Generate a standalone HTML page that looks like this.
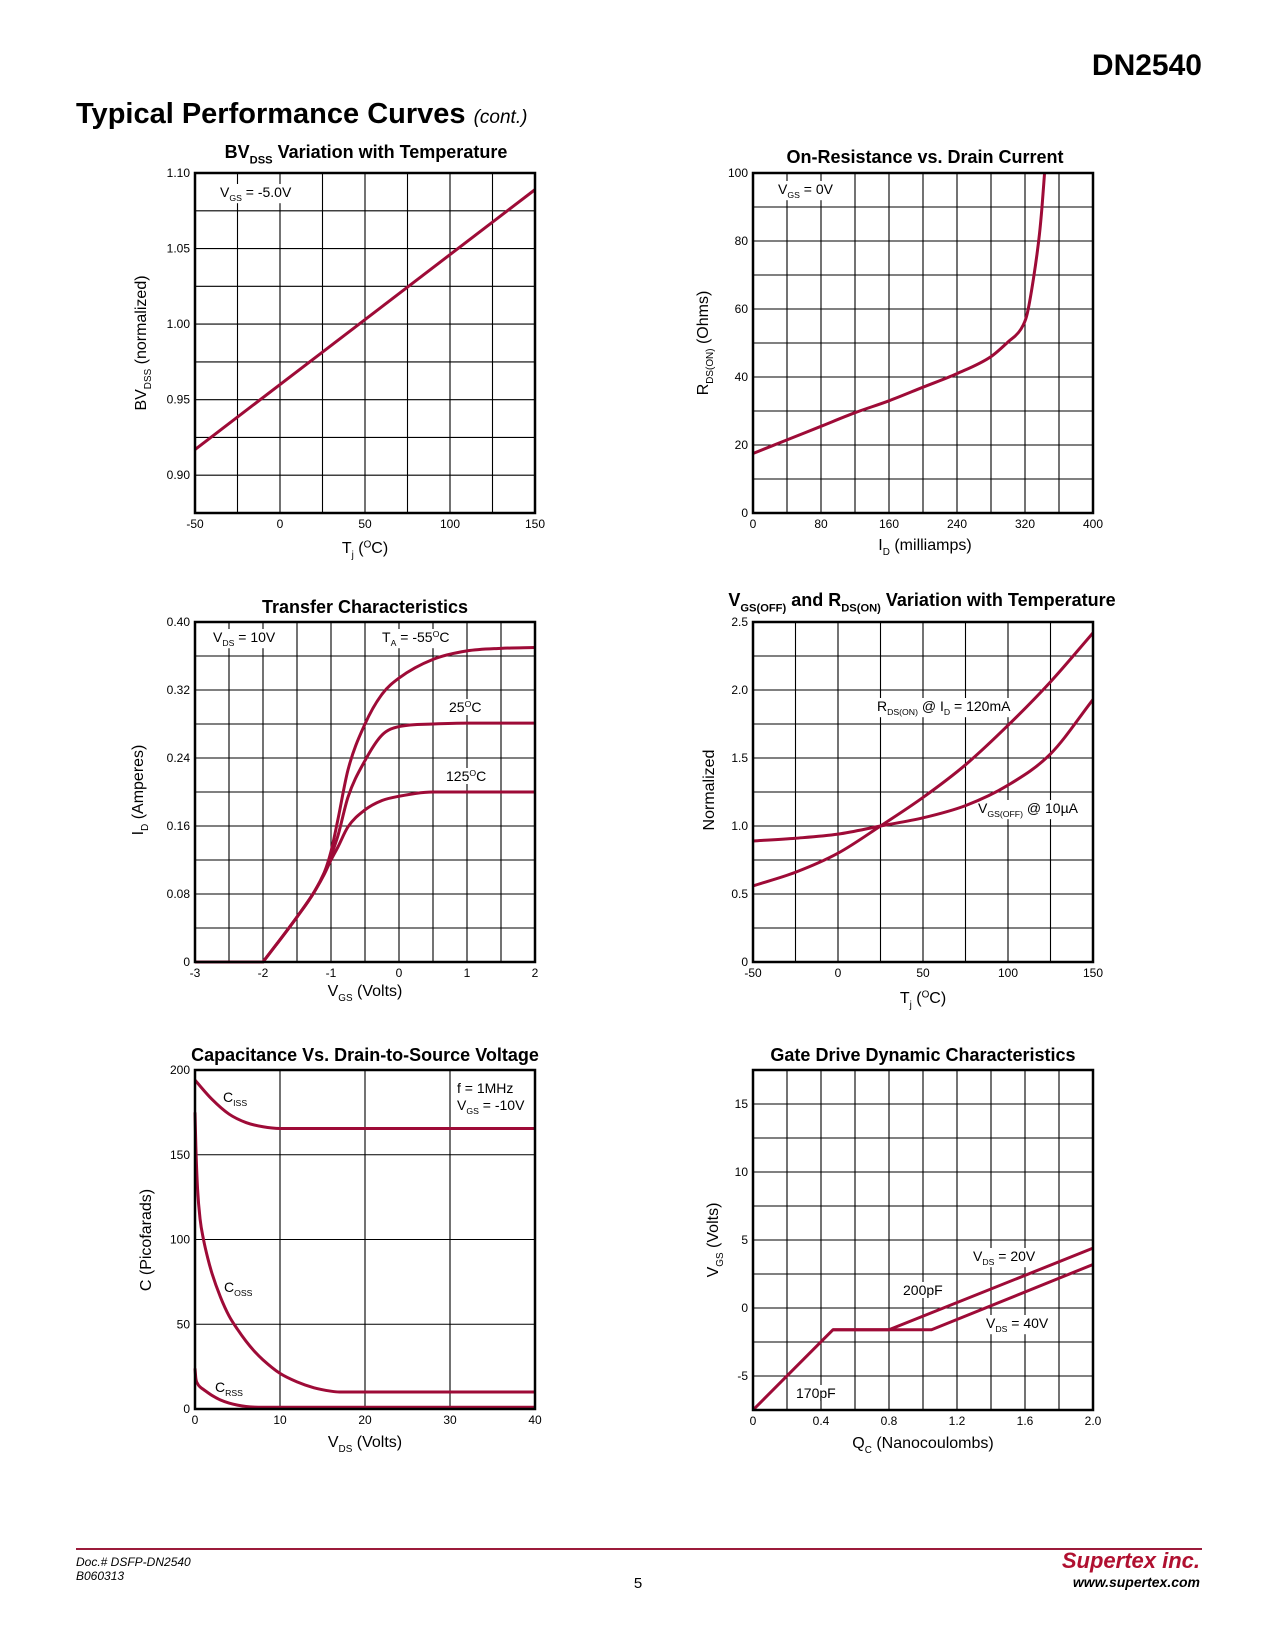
<!DOCTYPE html>
<html><head><meta charset="utf-8">
<style>
html,body{margin:0;padding:0;background:#fff;}
svg{display:block;font-family:"Liberation Sans",Arial,sans-serif;}
</style></head>
<body>
<svg id="page" width="1275" height="1650" viewBox="0 0 1275 1650" xmlns="http://www.w3.org/2000/svg">
<text x="1202" y="75" text-anchor="end" font-size="30" font-weight="bold">DN2540</text>
<text x="76" y="123" font-size="29" font-weight="bold">Typical Performance Curves <tspan font-size="19" font-weight="normal" font-style="italic">(cont.)</tspan></text>
<line x1="76" y1="1549" x2="1202" y2="1549" stroke="#9b1b3a" stroke-width="2"/>
<text x="76" y="1566" font-size="12" font-style="italic">Doc.# DSFP-DN2540</text>
<text x="76" y="1580" font-size="12" font-style="italic">B060313</text>
<text x="638" y="1588" font-size="15" text-anchor="middle">5</text>
<text x="1200" y="1568" font-size="22" font-weight="bold" font-style="italic" fill="#b01030" text-anchor="end">Supertex inc.</text>
<text x="1200" y="1587" font-size="14" font-weight="bold" font-style="italic" text-anchor="end">www.supertex.com</text>
</svg>
<script>
// ---------- Chart 1: BVDSS vs temperature ----------
const c1Temp = [-50, 150];
const c1BV = [0.917, 1.089];
const c1XTicks = [-50, 0, 50, 100, 150];
const c1XTickLabels = ['-50', '0', '50', '100', '150'];
const c1YTicks = [0.90, 0.95, 1.00, 1.05, 1.10];
const c1YTickLabels = ['0.90', '0.95', '1.00', '1.05', '1.10'];
// ---------- Chart 2: RDS(on) vs drain current ----------
const c2Id = [0, 40, 80, 120, 160, 200, 240, 280, 300, 315, 322, 330, 337, 340, 343];
const c2Rds = [17.5, 21.5, 25.5, 29.5, 33, 37, 41, 46, 50.3, 54, 58, 69, 82, 90, 100];
const c2XTicks = [0, 80, 160, 240, 320, 400];
const c2XTickLabels = ['0', '80', '160', '240', '320', '400'];
const c2YTicks = [0, 20, 40, 60, 80, 100];
const c2YTickLabels = ['0', '20', '40', '60', '80', '100'];
// ---------- Chart 3: transfer characteristics ----------
const c3Vgs = [-3, -2, -1.5, -1.25, -1.1, -1, -0.9, -0.75, -0.5, -0.25, 0, 0.5, 1, 1.5, 2];
const c3IdM55 = [0, 0, 0.053, 0.082, 0.105, 0.13, 0.167, 0.226, 0.28, 0.315, 0.334, 0.356, 0.366, 0.369, 0.37];
const c3Id25 = [0, 0, 0.053, 0.082, 0.105, 0.125, 0.148, 0.194, 0.237, 0.267, 0.277, 0.28, 0.281, 0.281, 0.281];
const c3Id125 = [0, 0, 0.053, 0.082, 0.103, 0.12, 0.135, 0.159, 0.179, 0.19, 0.195, 0.2, 0.2, 0.2, 0.2];
const c3XTicks = [-3, -2, -1, 0, 1, 2];
const c3XTickLabels = ['-3', '-2', '-1', '0', '1', '2'];
const c3YTicks = [0, 0.08, 0.16, 0.24, 0.32, 0.40];
const c3YTickLabels = ['0', '0.08', '0.16', '0.24', '0.32', '0.40'];
// ---------- Chart 4: VGS(off) & RDS(on) vs temperature ----------
const c4Temp = [-50, -25, 0, 25, 50, 75, 100, 125, 150];
const c4Rds = [0.56, 0.66, 0.80, 1.0, 1.21, 1.45, 1.74, 2.06, 2.42];
const c4Vgs = [0.89, 0.91, 0.94, 1.0, 1.06, 1.15, 1.30, 1.53, 1.93];
const c4XTicks = [-50, 0, 50, 100, 150];
const c4XTickLabels = ['-50', '0', '50', '100', '150'];
const c4YTicks = [0, 0.5, 1.0, 1.5, 2.0, 2.5];
const c4YTickLabels = ['0', '0.5', '1.0', '1.5', '2.0', '2.5'];
// ---------- Chart 5: capacitance vs VDS ----------
const c5VdsIss = [0, 2, 4, 6, 8, 10, 40];
const c5Ciss = [194, 182.7, 174, 169, 166.5, 165.5, 165.5];
const c5VdsOss = [0, 0.1, 0.3, 0.6, 1, 1.5, 2, 3, 4, 5, 6, 7, 8, 10, 12, 14, 16, 17, 40];
const c5Coss = [175, 155, 130, 112, 100, 89, 80, 66, 55, 47, 40, 34, 29, 21, 16, 12.5, 10.5, 10, 10];
const c5VdsRss = [0, 0.1, 0.3, 0.6, 1, 2, 3, 4, 5, 6, 7, 8, 40];
const c5Crss = [24, 18, 15, 13, 11.5, 8, 5.3, 3.5, 2.3, 1.5, 1.1, 1, 1];
const c5XTicks = [0, 10, 20, 30, 40];
const c5XTickLabels = ['0', '10', '20', '30', '40'];
const c5YTicks = [0, 50, 100, 150, 200];
const c5YTickLabels = ['0', '50', '100', '150', '200'];
// ---------- Chart 6: gate charge ----------
const c6Q20 = [0, 0.47, 0.8, 2.0];
const c6V20 = [-7.5, -1.6, -1.6, 4.4];
const c6Q40 = [0.47, 1.05, 2.0];
const c6V40 = [-1.6, -1.6, 3.2];
const c6XTicks = [0, 0.4, 0.8, 1.2, 1.6, 2.0];
const c6XTickLabels = ['0', '0.4', '0.8', '1.2', '1.6', '2.0'];
const c6YTicks = [-5, 0, 5, 10, 15];
const c6YTickLabels = ['-5', '0', '5', '10', '15'];

const NS = 'http://www.w3.org/2000/svg';
const page = document.getElementById('page');
const RED = '#9e0b37';

function mk(tag, attrs, name, parent) {
  const el = document.createElementNS(NS, tag);
  for (const k in attrs) el.setAttribute(k, attrs[k]);
  
  
  parent.appendChild(el);
  return el;
}
function rich(parent, x, y, parts, size, name, opts) {
  opts = opts || {};
  const t = mk('text', {x: x, y: y, 'font-size': size}, name, parent);
  if (opts.anchor) t.setAttribute('text-anchor', opts.anchor);
  if (opts.bold) t.setAttribute('font-weight', 'bold');
  if (opts.transform) t.setAttribute('transform', opts.transform);
  let sub = false;
  parts.forEach(p => {
    const s = document.createElementNS(NS, 'tspan');
    s.textContent = p[0];
    if (p[1] === 1 && !sub) { s.setAttribute('dy', size * 0.3); s.setAttribute('font-size', size * 0.62); sub = true; }
    else if (p[1] === 1) { s.setAttribute('font-size', size * 0.62); }
    else if (p[1] === 2) { s.setAttribute('dy', -size * 0.35); s.setAttribute('font-size', size * 0.62); sub = 'sup'; }
    else if (sub === true) { s.setAttribute('dy', -size * 0.3); sub = false; }
    else if (sub === 'sup') { s.setAttribute('dy', size * 0.35); sub = false; }
    t.appendChild(s);
  });
  if (opts.bg) {
    const b = t.getBBox();
    const r = document.createElementNS(NS, 'rect');
    r.setAttribute('x', b.x - 2); r.setAttribute('y', b.y);
    r.setAttribute('width', b.width + 4); r.setAttribute('height', b.height);
    r.setAttribute('fill', '#fff');
    
    
    parent.insertBefore(r, t);
  }
  return t;
}

function chart(c) {
  const g = mk('g', {}, c.name, page);
  const sx = v => c.L + (v - c.xmin) / (c.xmax - c.xmin) * (c.R - c.L);
  const sy = v => c.B - (v - c.ymin) / (c.ymax - c.ymin) * (c.B - c.T);
  const grid = mk('g', {stroke: '#000', 'stroke-width': 1.1}, 'grid', g);
  for (let i = 1; i < c.nx; i++) {
    const x = c.L + i * (c.R - c.L) / c.nx;
    mk('line', {x1: x, y1: c.T, x2: x, y2: c.B}, 'grid-line-x', grid);
  }
  for (let i = 1; i < c.ny; i++) {
    const y = c.T + i * (c.B - c.T) / c.ny;
    mk('line', {x1: c.L, y1: y, x2: c.R, y2: y}, 'grid-line-y', grid);
  }
  c.xt.forEach((v, i) => {
    const t = mk('text', {x: sx(v), y: c.B + 15, 'font-size': 12, 'text-anchor': 'middle'}, 'x-tick-label', g);
    t.textContent = c.xl[i];
  });
  c.yt.forEach((v, i) => {
    const t = mk('text', {x: c.L - 5, y: sy(v) + 4, 'font-size': 12, 'text-anchor': 'end'}, 'y-tick-label', g);
    t.textContent = c.yl[i];
  });
  return {g, sx, sy};
}
function frame(c, g) {
  mk('rect', {x: c.L, y: c.T, width: c.R - c.L, height: c.B - c.T, fill: 'none', stroke: '#000', 'stroke-width': 2.5}, 'plot-frame', g);
}
function monoPath(xs, ys, sx, sy, noMove) {
  const px = xs.map(sx), py = ys.map(sy), n = px.length;
  if (n === 2) return (noMove ? 'L' : 'M') + px[0] + ',' + py[0] + 'L' + px[1] + ',' + py[1];
  const m = [], t = [];
  for (let k = 0; k < n - 1; k++) m.push((py[k + 1] - py[k]) / (px[k + 1] - px[k]));
  t[0] = m[0]; t[n - 1] = m[n - 2];
  for (let k = 1; k < n - 1; k++) t[k] = (m[k - 1] * m[k] <= 0) ? 0 : (m[k - 1] + m[k]) / 2;
  for (let k = 0; k < n - 1; k++) {
    if (m[k] === 0) { t[k] = 0; t[k + 1] = 0; continue; }
    const a = t[k] / m[k], b = t[k + 1] / m[k], s = a * a + b * b;
    if (s > 9) { const f = 3 / Math.sqrt(s); t[k] = f * a * m[k]; t[k + 1] = f * b * m[k]; }
  }
  let d = (noMove ? 'L' : 'M') + px[0] + ',' + py[0];
  for (let k = 0; k < n - 1; k++) {
    const h = px[k + 1] - px[k];
    d += 'C' + (px[k] + h / 3) + ',' + (py[k] + t[k] * h / 3) + ' ' + (px[k + 1] - h / 3) + ',' + (py[k + 1] - t[k + 1] * h / 3) + ' ' + px[k + 1] + ',' + py[k + 1];
  }
  return d;
}
function linPath(xs, ys, sx, sy) {
  return xs.map((x, i) => (i ? 'L' : 'M') + sx(x) + ',' + sy(ys[i])).join('');
}
// flat linear lead-in then smooth rise
function kneePath(xs, ys, sx, sy) {
  return 'M' + sx(xs[0]) + ',' + sy(ys[0]) + monoPath(xs.slice(1), ys.slice(1), sx, sy, true);
}
function curve(g, d, name) {
  mk('path', {d: d, fill: 'none', stroke: RED, 'stroke-width': 3, 'stroke-linejoin': 'round'}, name, g);
}

// Chart 1
let C = {name: 'chart-bvdss-vs-temp', L: 195, R: 535, T: 173, B: 513, xmin: -50, xmax: 150, ymin: 0.875, ymax: 1.10, nx: 8, ny: 9, xt: c1XTicks, xl: c1XTickLabels, yt: c1YTicks, yl: c1YTickLabels};
let r = chart(C);
rich(r.g, 220, 197, [['V'], ['GS', 1], [' = -5.0V']], 14, 'vgs-annotation', {bg: true});
curve(r.g, monoPath(c1Temp, c1BV, r.sx, r.sy), 'bvdss-line');
frame(C, r.g);
rich(r.g, 366, 158, [['BV'], ['DSS', 1], [' Variation with Temperature']], 18, 'chart-title', {anchor: 'middle', bold: true});
rich(r.g, 365, 553, [['T'], ['j', 1], [' ('], ['O', 2], ['C)']], 16, 'x-axis-title', {anchor: 'middle'});
rich(r.g, 0, 0, [['BV'], ['DSS', 1], [' (normalized)']], 16, 'y-axis-title', {anchor: 'middle', transform: 'translate(146,343) rotate(-90)'});

// Chart 2
C = {name: 'chart-rds-vs-id', L: 753, R: 1093, T: 173, B: 513, xmin: 0, xmax: 400, ymin: 0, ymax: 100, nx: 10, ny: 10, xt: c2XTicks, xl: c2XTickLabels, yt: c2YTicks, yl: c2YTickLabels};
r = chart(C);
rich(r.g, 778, 194, [['V'], ['GS', 1], [' = 0V']], 14, 'vgs-annotation', {bg: true});
curve(r.g, monoPath(c2Id, c2Rds, r.sx, r.sy), 'rds-curve');
frame(C, r.g);
rich(r.g, 925, 163, [['On-Resistance vs. Drain Current']], 18, 'chart-title', {anchor: 'middle', bold: true});
rich(r.g, 925, 550, [['I'], ['D', 1], [' (milliamps)']], 16, 'x-axis-title', {anchor: 'middle'});
rich(r.g, 0, 0, [['R'], ['DS(ON)', 1], [' (Ohms)']], 16, 'y-axis-title', {anchor: 'middle', transform: 'translate(708,343) rotate(-90)'});

// Chart 3
C = {name: 'chart-transfer', L: 195, R: 535, T: 622, B: 962, xmin: -3, xmax: 2, ymin: 0, ymax: 0.40, nx: 10, ny: 10, xt: c3XTicks, xl: c3XTickLabels, yt: c3YTicks, yl: c3YTickLabels};
r = chart(C);
rich(r.g, 213, 642, [['V'], ['DS', 1], [' = 10V']], 14, 'vds-annotation', {bg: true});
rich(r.g, 382, 642, [['T'], ['A', 1], [' = -55'], ['O', 2], ['C']], 14, 'label-minus55c', {bg: true});
rich(r.g, 449, 712, [['25'], ['O', 2], ['C']], 14, 'label-25c', {bg: true});
rich(r.g, 446, 781, [['125'], ['O', 2], ['C']], 14, 'label-125c', {bg: true});
curve(r.g, kneePath(c3Vgs, c3Id125, r.sx, r.sy), 'curve-125c');
curve(r.g, kneePath(c3Vgs, c3Id25, r.sx, r.sy), 'curve-25c');
curve(r.g, kneePath(c3Vgs, c3IdM55, r.sx, r.sy), 'curve-minus55c');
frame(C, r.g);
rich(r.g, 365, 613, [['Transfer Characteristics']], 18, 'chart-title', {anchor: 'middle', bold: true});
rich(r.g, 365, 996, [['V'], ['GS', 1], [' (Volts)']], 16, 'x-axis-title', {anchor: 'middle'});
rich(r.g, 0, 0, [['I'], ['D', 1], [' (Amperes)']], 16, 'y-axis-title', {anchor: 'middle', transform: 'translate(143,790) rotate(-90)'});

// Chart 4
C = {name: 'chart-vgsoff-rdson-vs-temp', L: 753, R: 1093, T: 622, B: 962, xmin: -50, xmax: 150, ymin: 0, ymax: 2.5, nx: 8, ny: 10, xt: c4XTicks, xl: c4XTickLabels, yt: c4YTicks, yl: c4YTickLabels};
r = chart(C);
rich(r.g, 877, 711, [['R'], ['DS(ON)', 1], [' @ I'], ['D', 1], [' = 120mA']], 14, 'label-rdson', {bg: true});
rich(r.g, 978, 813, [['V'], ['GS(OFF)', 1], [' @ 10µA']], 14, 'label-vgsoff', {bg: true});
curve(r.g, monoPath(c4Temp, c4Rds, r.sx, r.sy), 'rdson-curve');
curve(r.g, monoPath(c4Temp, c4Vgs, r.sx, r.sy), 'vgsoff-curve');
frame(C, r.g);
rich(r.g, 922, 606, [['V'], ['GS(OFF)', 1], [' and R'], ['DS(ON)', 1], [' Variation with Temperature']], 18, 'chart-title', {anchor: 'middle', bold: true});
rich(r.g, 923, 1003, [['T'], ['j', 1], [' ('], ['O', 2], ['C)']], 16, 'x-axis-title', {anchor: 'middle'});
rich(r.g, 0, 0, [['Normalized']], 16, 'y-axis-title', {anchor: 'middle', transform: 'translate(714,790) rotate(-90)'});

// Chart 5
C = {name: 'chart-capacitance', L: 195, R: 535, T: 1070, B: 1409, xmin: 0, xmax: 40, ymin: 0, ymax: 200, nx: 4, ny: 4, xt: c5XTicks, xl: c5XTickLabels, yt: c5YTicks, yl: c5YTickLabels};
r = chart(C);
rich(r.g, 223, 1102, [['C'], ['ISS', 1]], 14, 'label-ciss');
rich(r.g, 224, 1292, [['C'], ['OSS', 1]], 14, 'label-coss');
rich(r.g, 215, 1392, [['C'], ['RSS', 1]], 14, 'label-crss');
rich(r.g, 457, 1093, [['f = 1MHz']], 14, 'freq-annotation');
rich(r.g, 457, 1110, [['V'], ['GS', 1], [' = -10V']], 14, 'vgs-annotation');
curve(r.g, monoPath(c5VdsIss, c5Ciss, r.sx, r.sy), 'ciss-curve');
curve(r.g, monoPath(c5VdsOss, c5Coss, r.sx, r.sy), 'coss-curve');
curve(r.g, monoPath(c5VdsRss, c5Crss, r.sx, r.sy), 'crss-curve');
frame(C, r.g);
rich(r.g, 365, 1061, [['Capacitance Vs. Drain-to-Source Voltage']], 18, 'chart-title', {anchor: 'middle', bold: true});
rich(r.g, 365, 1447, [['V'], ['DS', 1], [' (Volts)']], 16, 'x-axis-title', {anchor: 'middle'});
rich(r.g, 0, 0, [['C (Picofarads)']], 16, 'y-axis-title', {anchor: 'middle', transform: 'translate(151,1240) rotate(-90)'});

// Chart 6
C = {name: 'chart-gate-charge', L: 753, R: 1093, T: 1070, B: 1410, xmin: 0, xmax: 2.0, ymin: -7.5, ymax: 17.5, nx: 10, ny: 10, xt: c6XTicks, xl: c6XTickLabels, yt: c6YTicks, yl: c6YTickLabels};
r = chart(C);
rich(r.g, 973, 1261, [['V'], ['DS', 1], [' = 20V']], 14, 'label-vds20', {bg: true});
rich(r.g, 903, 1295, [['200pF']], 14, 'label-200pf', {bg: true});
rich(r.g, 986, 1328, [['V'], ['DS', 1], [' = 40V']], 14, 'label-vds40', {bg: true});
rich(r.g, 796, 1398, [['170pF']], 14, 'label-170pf', {bg: true});
curve(r.g, linPath(c6Q40, c6V40, r.sx, r.sy), 'vds40-curve');
curve(r.g, linPath(c6Q20, c6V20, r.sx, r.sy), 'vds20-curve');
frame(C, r.g);
rich(r.g, 923, 1061, [['Gate Drive Dynamic Characteristics']], 18, 'chart-title', {anchor: 'middle', bold: true});
rich(r.g, 923, 1448, [['Q'], ['C', 1], [' (Nanocoulombs)']], 16, 'x-axis-title', {anchor: 'middle'});
rich(r.g, 0, 0, [['V'], ['GS', 1], [' (Volts)']], 16, 'y-axis-title', {anchor: 'middle', transform: 'translate(718,1240) rotate(-90)'});
</script>
</body></html>
